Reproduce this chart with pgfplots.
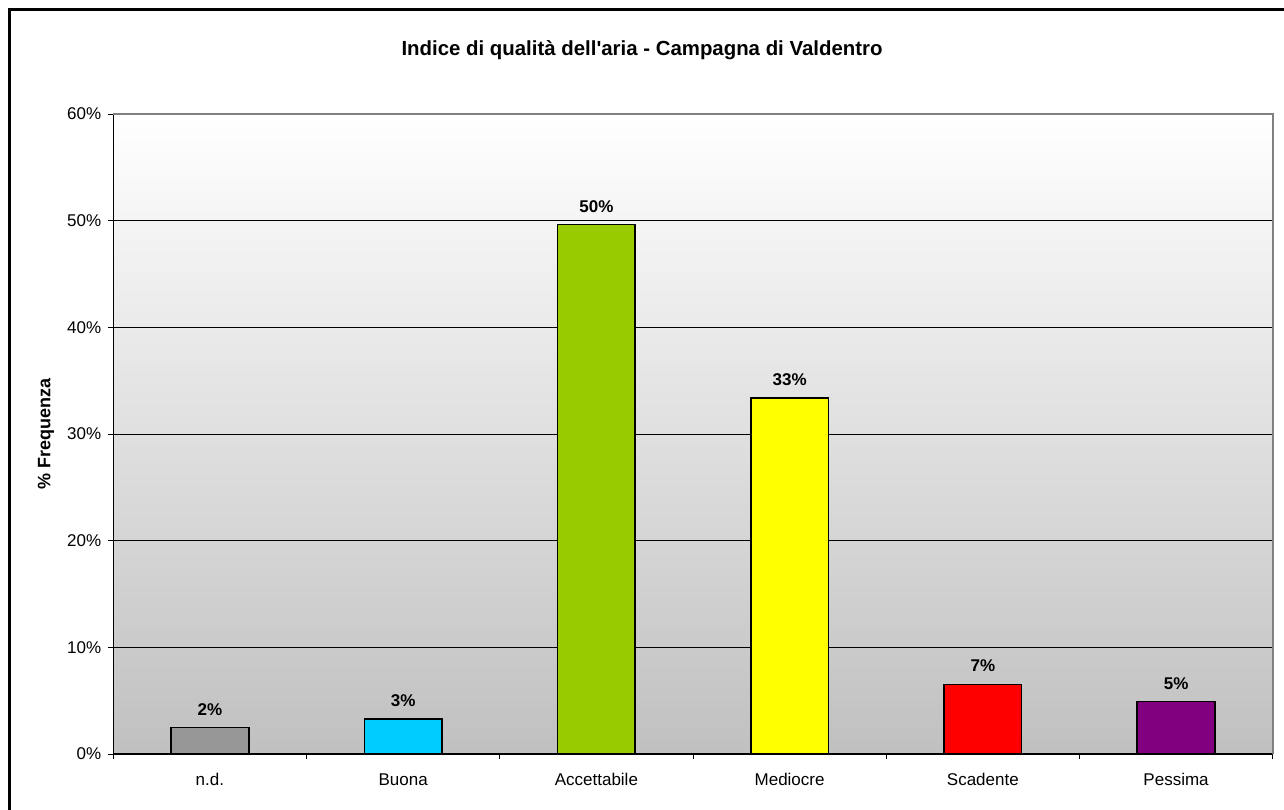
\documentclass[border=0pt]{standalone}
\usepackage{fontspec}
\setmainfont{Liberation Sans}
\usepackage{pgfplots}
\pgfplotsset{compat=1.18}
\definecolor{cnd}{HTML}{969696}
\definecolor{cbuona}{HTML}{00CCFF}
\definecolor{cacc}{HTML}{99CC00}
\definecolor{cmed}{HTML}{FFFF00}
\definecolor{csca}{HTML}{FF0000}
\definecolor{cpes}{HTML}{800080}
\definecolor{bggray}{HTML}{C0C0C0}
\definecolor{framegray}{HTML}{808080}
\begin{document}
\begin{tikzpicture}[x=0.5pt,y=0.5pt]
\useasboundingbox (0,0) rectangle (1284,809);
\fill[white] (0,0) rectangle (1284,809);
\draw[line width=1.5pt] (9.5,-20) -- (9.5,799) -- (1300,799);
\node[font=\bfseries\fontsize{10.2}{12}\selectfont, anchor=base] at (642,753) {Indice di qualità dell\XeTeXglyph\XeTeXglyphindex "quotesingle"\relax aria - Campagna di Valdentro};
\begin{axis}[
  at={(56.65pt,27.5pt)}, anchor=south west,
  scale only axis, width=579.7pt, height=320pt,
  /pgf/number format/assume math mode=true,
  font=\fontsize{8.5}{10}\selectfont,
  ybar, bar width=38.85pt, bar shift=0pt,
  xmin=-0.5, xmax=5.5, ymin=0, ymax=60,
  axis lines*=left,
  axis line style={black, line width=0.6pt},
  axis background/.style={top color=white, bottom color=bggray},
  xtick={0,1,2,3,4,5},
  xticklabels={n.d., Buona, Accettabile, Mediocre, Scadente, Pessima},
  minor xtick={-0.5,0.5,1.5,2.5,3.5,4.5,5.5},
  major x tick style={draw=none},
  minor x tick style={black, line width=0.5pt},
  minor tick length=2.5pt,
  major tick length=2.5pt,
  tick align=outside,
  ytick={0,10,...,60},
  yticklabel={\pgfmathprintnumber{\tick}\%},
  ytick style={black, line width=0.5pt},
  ymajorgrids,
  major grid style={black, line width=0.5pt},
  ylabel={\bfseries\% Frequenza},
  ylabel style={at={(axis description cs:-0.058,0.5)}, anchor=center, font=\bfseries\fontsize{9}{11}\selectfont},
  xticklabel style={anchor=base, yshift=-13pt},
  nodes near coords={\pgfmathprintnumber[fixed,precision=0]{\pgfplotspointmeta}\%},
  every node near coord/.append style={font=\bfseries\fontsize{8.5}{10}\selectfont, anchor=base, yshift=6.3pt, inner sep=0pt},
  clip=false,
]
\addplot[fill=cnd, draw=black, line width=0.75pt] coordinates {(0,2.47)};
\addplot[fill=cbuona, draw=black, line width=0.75pt] coordinates {(1,3.28)};
\addplot[fill=cacc, draw=black, line width=0.75pt] coordinates {(2,49.62)};
\addplot[fill=cmed, draw=black, line width=0.75pt] coordinates {(3,33.37)};
\addplot[fill=csca, draw=black, line width=0.75pt] coordinates {(4,6.53)};
\addplot[fill=cpes, draw=black, line width=0.75pt] coordinates {(5,4.91)};
\draw[framegray, line width=0.8pt] (rel axis cs:0,1) -- (rel axis cs:1,1) -- (rel axis cs:1,0);
\end{axis}
\end{tikzpicture}
\end{document}
